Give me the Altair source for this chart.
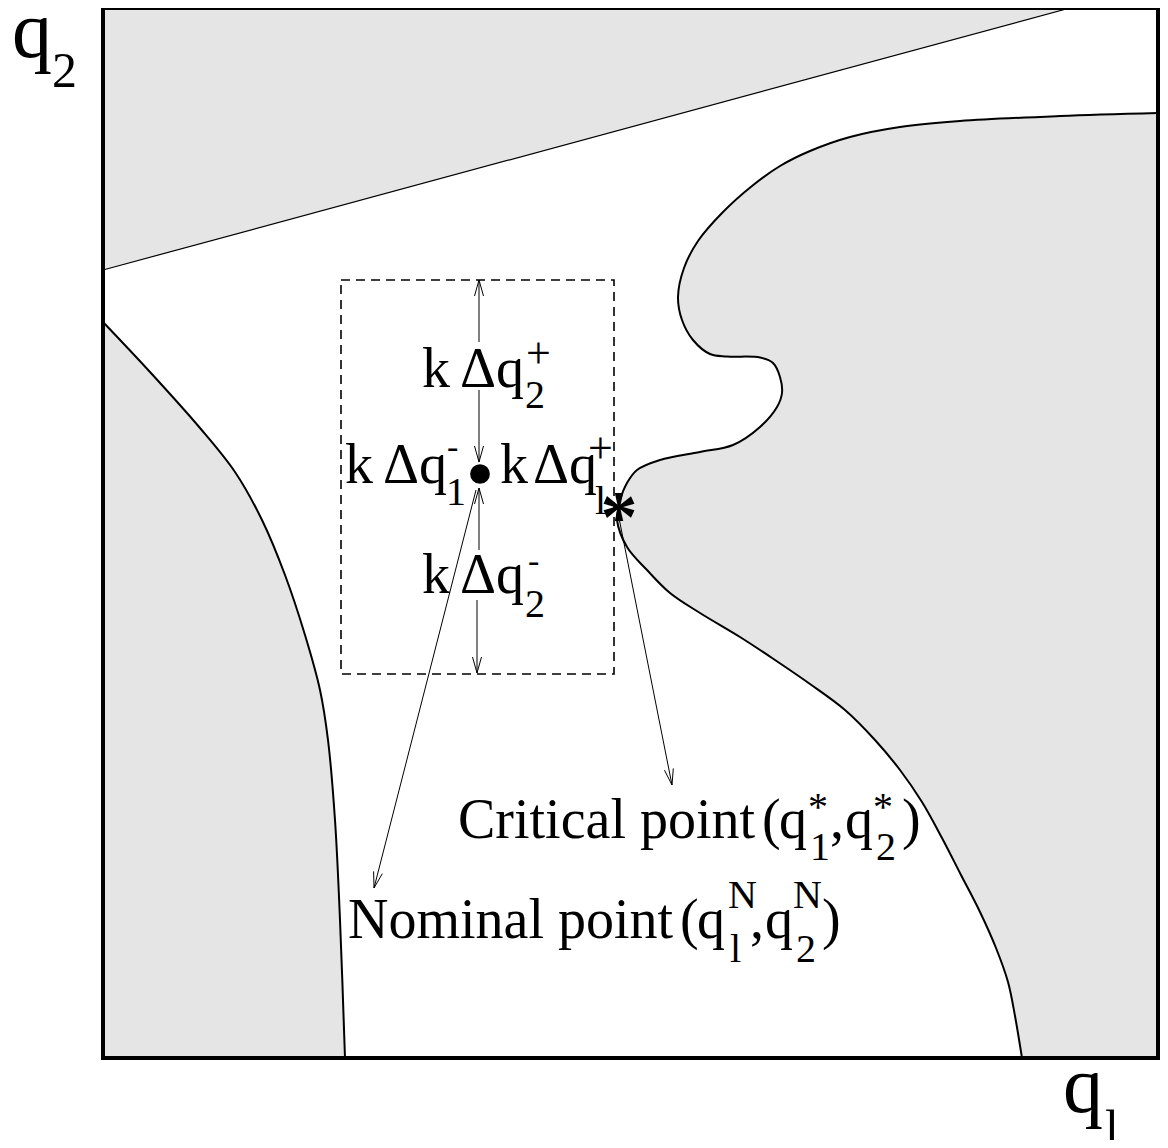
import math
import altair as alt
import pandas as pd

# ---- geometry (page-pixel coordinates) ----
frame_x = [103, 1158]
frame_y = [8, 1058]

diag_x = [103, 1070]
diag_y = [270, 8]

left_x = [103, 150, 200, 235, 262, 285, 305, 320, 328, 335, 340, 345]
left_y = [322, 372, 428, 472, 520, 575, 635, 690, 740, 820, 920, 1058]

right_x = [1158, 1060, 960, 900, 850, 810, 780, 752, 723, 698, 684, 678, 682, 693,
           710, 727, 760, 773, 780, 782, 777, 760, 733, 700, 660, 637, 627, 620,
           618, 617, 627, 647, 670, 700, 740, 775, 810, 845, 875, 900, 922, 942,
           961, 980, 996, 1008, 1015, 1022]
right_y = [113, 116, 121, 127, 137, 151, 166, 186, 212, 241, 268, 297, 320, 340,
           354, 356.5, 357.5, 363, 377, 393, 407, 427, 445, 452, 460, 470, 483, 500,
           510, 520, 547, 570, 593, 613, 637, 660, 684, 710, 740, 770, 802, 838,
           875, 912, 948, 982, 1016, 1058]

box_x = [341, 614]
box_y = [280, 674]

dot_x = [480]
dot_y = [474]

star_x = [619]
star_y = [542]

arrow_x0 = [479, 479, 479, 477, 476, 619]
arrow_y0 = [342, 390, 550, 600, 490, 518]
arrow_x1 = [479, 479, 479, 477, 374, 672]
arrow_y1 = [280, 462, 488, 673, 888, 785]

label_text = ["q", "2", "q", "l",
              "k", "Δq", "2", "+",
              "k", "Δq", "1", "-",
              "k", "Δq", "l", "+",
              "k", "Δq", "2", "-",
              "Critical point", "(", "q", "*", "1", ",", "q", "*", "2", ")",
              "Nominal point", "(", "q", "N", "l", ",", "q", "N", "2", ")"]
label_x = [12, 52, 1063, 1105,
           422, 460, 525, 526,
           345, 383, 446, 447,
           500, 533, 595, 588,
           422, 460, 525, 528,
           458, 762, 779, 808, 810, 830, 845, 873, 876, 902,
           348, 680, 697, 728, 730, 750, 765, 793, 796, 822]
label_y = [57, 87, 1112, 1145,
           387, 387, 408, 368,
           483, 483, 505, 458,
           483, 483, 514, 463,
           593, 593, 617, 572,
           838, 838, 838, 820, 860, 838, 838, 820, 860, 838,
           938, 938, 938, 908, 962, 938, 938, 908, 962, 938]
label_size = [80, 50, 80, 50,
              56, 56, 40, 44,
              56, 56, 40, 34,
              56, 56, 40, 44,
              56, 56, 40, 34,
              56, 56, 56, 40, 40, 56, 56, 40, 40, 56,
              56, 56, 56, 40, 40, 56, 56, 40, 40, 56]

GRAY = "#e5e5e5"
FONT = "Liberation Serif"

# ---- shared scales: data units == page pixels ----
XS = alt.Scale(domain=[8, 1160], nice=False, zero=False)
YS = alt.Scale(domain=[8, 1140], nice=False, zero=False, reverse=True)


def X(f):
    return alt.X(f, type="quantitative", scale=XS, axis=None)


def Y(f):
    return alt.Y(f, type="quantitative", scale=YS, axis=None)


# ---- data tables ----
diag = pd.DataFrame({"x": diag_x, "y": diag_y, "top": [frame_y[0]] * len(diag_x)})
left = pd.DataFrame({"x": left_x, "y": left_y, "edge": [frame_x[0]] * len(left_x)})
right = pd.DataFrame({"x": right_x, "y": right_y, "edge": [frame_x[1]] * len(right_x)})
frame = pd.DataFrame({"x": [frame_x[0]], "x2": [frame_x[1]], "y": [frame_y[0]], "y2": [frame_y[1]]})
box = pd.DataFrame({"x": [box_x[0]], "x2": [box_x[1]], "y": [box_y[0]], "y2": [box_y[1]]})
dot = pd.DataFrame({"x": dot_x, "y": dot_y})
star = pd.DataFrame({"x": star_x, "y": star_y, "t": ["*"]})
labels = pd.DataFrame({"x": label_x, "y": label_y, "t": label_text, "s": label_size})

rows = []
HEAD_L, HEAD_W = 16, 4.5
for k, (x0, y0, x1, y1) in enumerate(zip(arrow_x0, arrow_y0, arrow_x1, arrow_y1)):
    dx, dy = x1 - x0, y1 - y0
    n = math.hypot(dx, dy)
    ux, uy = dx / n, dy / n
    px, py = -uy, ux
    rows.append({"g": f"s{k}", "o": 0, "x": x0, "y": y0})
    rows.append({"g": f"s{k}", "o": 1, "x": x1, "y": y1})
    bx, by = x1 - HEAD_L * ux, y1 - HEAD_L * uy
    rows.append({"g": f"h{k}", "o": 0, "x": bx + HEAD_W * px, "y": by + HEAD_W * py})
    rows.append({"g": f"h{k}", "o": 1, "x": x1, "y": y1})
    rows.append({"g": f"h{k}", "o": 2, "x": bx - HEAD_W * px, "y": by - HEAD_W * py})
arrows = pd.DataFrame(rows)

# ---- layers ----
tri_fill = alt.Chart(diag).mark_area(color=GRAY, opacity=1).encode(
    x=X("x"), y=Y("y"), y2="top")

left_fill = alt.Chart(left).mark_area(color=GRAY, opacity=1, orient="horizontal",
                                      interpolate="catmull-rom").encode(
    y=Y("y"), x=X("x"), x2="edge")

right_fill = alt.Chart(right).mark_area(color=GRAY, opacity=1, orient="horizontal",
                                        interpolate="catmull-rom").encode(
    y=Y("y"), x=X("x"), x2="edge")

diag_line = alt.Chart(diag).mark_line(color="black", strokeWidth=1.2).encode(
    x=X("x"), y=Y("y"))

left_line = alt.Chart(left).mark_line(color="black", strokeWidth=2, interpolate="catmull-rom",
                                      orient="horizontal").encode(
    x=X("x"), y=Y("y"))

right_line = alt.Chart(right).mark_line(color="black", strokeWidth=2, interpolate="catmull-rom",
                                        orient="horizontal").encode(
    x=X("x"), y=Y("y"))

box_rect = alt.Chart(box).mark_rect(filled=False, stroke="black", strokeWidth=1.6,
                                    strokeDash=[9, 6]).encode(
    x=X("x"), x2="x2", y=Y("y"), y2="y2")

arrow_lines = alt.Chart(arrows).mark_line(color="black", strokeWidth=1).encode(
    x=X("x"), y=Y("y"), detail="g:N", order="o:Q")

dot_mark = alt.Chart(dot).mark_circle(color="black", opacity=1, size=390).encode(
    x=X("x"), y=Y("y"))

star_mark = alt.Chart(star).mark_text(font=FONT, fontSize=74, align="center",
                                      baseline="alphabetic", color="black",
                                      fontWeight="bold").encode(
    x=X("x"), y=Y("y"), text="t:N")

label_marks = alt.Chart(labels).mark_text(font=FONT, align="left", baseline="alphabetic",
                                          color="black").encode(
    x=X("x"), y=Y("y"), text="t:N", size=alt.Size("s:Q", scale=None, legend=None))

frame_rect = alt.Chart(frame).mark_rect(filled=False, stroke="black", strokeWidth=4).encode(
    x=X("x"), x2="x2", y=Y("y"), y2="y2")

chart = alt.layer(
    tri_fill, left_fill, right_fill, diag_line, left_line, right_line,
    box_rect, arrow_lines, dot_mark, star_mark, label_marks, frame_rect
).properties(
    width=1152, height=1132, padding=0, autosize=alt.AutoSizeParams(type="none")
).configure_view(stroke=None)

chart.save("out.html", embed_options={"renderer": "svg", "actions": False})
